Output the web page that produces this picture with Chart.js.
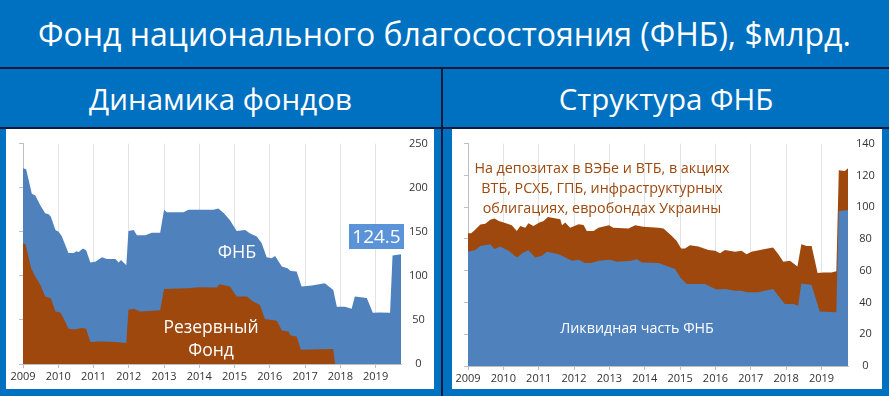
<!DOCTYPE html>
<html lang="ru">
<head>
<meta charset="UTF-8">
<title>Фонд национального благосостояния</title>
<script src="https://cdn.jsdelivr.net/npm/chart.js"></script>
<style>
  body { margin: 0; width: 889px; height: 396px; background: #0070c0; position: relative; overflow: hidden;
         font-family: "Open Sans", sans-serif; color: #fff; }
  .title { position: absolute; left: 0; top: 0; width: 889px; height: 68px; line-height: 68px; text-align: center; font-size: 32px; }
  .hline { position: absolute; left: 0; width: 889px; height: 2px; background: #0c1b3d; }
  .vline { position: absolute; left: 441px; top: 68px; width: 2px; height: 328px; background: #0c1b3d; }
  .sub { position: absolute; top: 70px; height: 58px; line-height: 58px; text-align: center; font-size: 29.5px; }
  .panel { position: absolute; top: 129px; height: 260px; background: #fff; }
  .panel canvas { position: absolute; left: 0; top: 0; }
  .lbl { position: absolute; white-space: nowrap; transform: translate(-50%, -50%); text-align: center; }
</style>
</head>
<body>

<div class="title">Фонд национального благосостояния (ФНБ), $млрд.</div>
<div class="hline" style="top:67px"></div>
<div class="hline" style="top:127px"></div>
<div class="vline"></div>
<div class="sub" style="left:0;width:441px">Динамика фондов</div>
<div class="sub" style="left:443px;width:446px">Структура ФНБ</div>

<div class="panel" style="left:6px;width:428px">
  <canvas id="leftChart" width="428" height="260"></canvas>
</div>
<div class="panel" style="left:452px;width:430px">
  <canvas id="rightChart" width="430" height="260"></canvas>
</div>

<div class="lbl" style="left:237px;top:251px;font-size:18px">ФНБ</div>
<div class="lbl" style="left:211px;top:326px;font-size:17.5px">Резервный</div>
<div class="lbl" style="left:211px;top:349px;font-size:17.5px">Фонд</div>
<div style="position:absolute;left:349px;top:224px;width:55px;height:25px;background:#5b93d9;color:#fff;font-size:19px;line-height:25px;text-align:center">124.5</div>

<div class="lbl" style="left:602px;top:188px;font-size:14.3px;line-height:20px;color:#9e480e">На депозитах в ВЭБе и ВТБ, в акциях<br>ВТБ, РСХБ, ГПБ, инфраструктурных<br>облигациях, евробондах Украины</div>
<div class="lbl" style="left:637px;top:327px;font-size:14.3px">Ликвидная часть ФНБ</div>

<script>
  // x axis years
  const yearTicks = [2009, 2010, 2011, 2012, 2013, 2014, 2015, 2016, 2017, 2018, 2019];
  const leftYTicks = [0, 50, 100, 150, 200, 250];
  const rightYTicks = [0, 20, 40, 60, 80, 100, 120, 140];

  // Динамика фондов: ФНБ (сверху) и Резервный фонд
  const fnbTopYears = [2009.00, 2009.09, 2009.25, 2009.35, 2009.49, 2009.63, 2009.73, 2009.79, 2009.92, 2010.01,
    2010.10, 2010.29, 2010.44, 2010.51, 2010.58, 2010.70, 2010.79, 2010.91, 2011.05, 2011.24,
    2011.38, 2011.62, 2011.71, 2011.78, 2011.93, 2011.99, 2012.14, 2012.23, 2012.47, 2012.65,
    2012.89, 2013.00, 2013.08, 2013.55, 2013.69, 2014.40, 2014.54, 2014.70, 2014.87, 2015.06,
    2015.30, 2015.44, 2015.63, 2015.77, 2015.91, 2016.05, 2016.15, 2016.34, 2016.50, 2016.59,
    2016.76, 2016.90, 2017.19, 2017.56, 2017.80, 2017.90, 2018.13, 2018.32, 2018.41, 2018.75,
    2018.92, 2019.12, 2019.41, 2019.48, 2019.72];
  const fnbTopValues = [222, 221, 193, 191, 180, 171, 170, 167, 152, 150,
    145, 126, 126, 128, 127, 131, 129, 115, 116, 121,
    119, 119, 115, 118, 112, 151, 152, 146, 146, 149,
    149, 175, 172, 172, 175, 175, 176.5, 171, 163, 151,
    152, 148, 144.5, 137, 121, 120, 122.5, 110.5, 108.6, 105.6,
    104.8, 88, 89, 91.6, 84, 65, 65, 62.6, 76.5, 75,
    58, 58.5, 58, 123, 124.5];

  const reserveYears = [2009.00, 2009.07, 2009.23, 2009.35, 2009.49, 2009.63, 2009.79, 2009.92, 2010.06, 2010.15,
    2010.29, 2010.44, 2010.67, 2010.79, 2010.91, 2011.19, 2011.62, 2011.93, 2011.99, 2012.14,
    2012.32, 2012.89, 2013.00, 2013.65, 2014.02, 2014.50, 2014.57, 2014.87, 2015.06, 2015.35,
    2015.53, 2015.72, 2015.86, 2016.20, 2016.34, 2016.53, 2016.59, 2016.76, 2016.88, 2017.80,
    2017.85];
  const reserveValues = [137, 136, 108.6, 99, 90, 76.5, 74.7, 59.6, 58.5, 52,
    40, 39, 40.7, 40, 25, 25.6, 25, 23.8, 61.5, 62.6,
    59.6, 61, 85, 86, 87, 86.7, 90.5, 88, 76.5, 76.5,
    71, 67, 51, 49, 38, 37, 32.4, 31.3, 16.2, 17,
    0];

  // Структура ФНБ: всего и ликвидная часть
  const totalYears = [2009.00, 2009.09, 2009.21, 2009.35, 2009.49, 2009.63, 2009.75, 2009.87, 2010.01, 2010.24,
    2010.38, 2010.48, 2010.62, 2010.71, 2010.85, 2011.02, 2011.14, 2011.26, 2011.61, 2011.66,
    2011.75, 2011.89, 2012.13, 2012.27, 2012.36, 2012.55, 2012.69, 2012.99, 2013.11, 2013.54,
    2013.73, 2013.96, 2014.39, 2014.53, 2014.76, 2014.90, 2015.03, 2015.14, 2015.28, 2015.52,
    2015.80, 2015.99, 2016.13, 2016.27, 2016.55, 2016.74, 2016.88, 2017.02, 2017.40, 2017.63,
    2017.78, 2017.92, 2018.11, 2018.32, 2018.43, 2018.58, 2018.72, 2018.89, 2019.05, 2019.28,
    2019.42, 2019.49, 2019.66, 2019.75];
  const totalValues = [83.6, 83.6, 86, 89, 89.6, 92, 92.8, 91.3, 90.3, 88.6,
    85, 88.2, 87, 89.9, 88.2, 90.3, 91.3, 93.8, 92.4, 88.6,
    90.3, 87, 89.2, 88.8, 85, 85, 87, 88.6, 87, 86.5,
    88.6, 87.6, 87, 86.5, 82, 78.8, 74, 74, 76, 75.2,
    73, 72.5, 71, 73, 71.9, 72.5, 70.4, 71.9, 73.6, 74.6,
    70.4, 65.6, 66.2, 62.7, 76.7, 75.6, 75.6, 58.5, 58.9, 58.9,
    59.6, 123.3, 122.7, 124.5];

  const liquidYears = [2009.00, 2009.21, 2009.35, 2009.63, 2009.75, 2009.91, 2010.15, 2010.38, 2010.57, 2010.71,
    2010.90, 2011.09, 2011.23, 2011.56, 2011.70, 2011.94, 2012.13, 2012.31, 2012.50, 2012.69,
    2013.02, 2013.21, 2013.63, 2013.77, 2013.92, 2014.39, 2014.57, 2014.86, 2015.00, 2015.19,
    2015.70, 2016.03, 2016.27, 2016.55, 2016.74, 2016.88, 2017.21, 2017.63, 2017.78, 2017.96,
    2018.20, 2018.34, 2018.43, 2018.72, 2018.95, 2019.42, 2019.49, 2019.75];
  const liquidValues = [71.9, 73.1, 75.6, 76.7, 73.6, 75.2, 72.5, 68.3, 71.5, 72.9,
    68.3, 69.4, 71.9, 70.4, 69, 66.2, 66.9, 64.8, 64.8, 66.2,
    66.9, 65.6, 66.2, 67.3, 65.2, 64.8, 63.5, 61, 55.8, 51.6,
    51.6, 48.1, 48.5, 47.4, 47.4, 46.4, 46.4, 48.5, 44.3, 39.1,
    39.1, 38, 52, 51, 34.3, 33.9, 97.6, 98];

  const blue = '#4f81bd';
  const brown = '#9e480e';
  const tickFont = { family: 'Open Sans', size: 11 };
  const pts = (xs, ys) => xs.map((x, i) => ({ x: x, y: ys[i] }));
  const area = (label, data, color) => ({
    label: label, data: data, backgroundColor: color, borderWidth: 0,
    pointRadius: 0, fill: 'origin', tension: 0
  });

  function makeChart(id, datasets, xMax, yTicks, pad, yWidth, xHeight) {
    return new Chart(document.getElementById(id), {
      type: 'line',
      data: { datasets: datasets },
      options: {
        responsive: false,
        animation: false,
        layout: { padding: { left: pad.left, top: pad.top, right: 0, bottom: 0 } },
        plugins: { legend: { display: false }, tooltip: { enabled: false } },
        scales: {
          x: {
            type: 'linear', min: 2009, max: xMax,
            afterBuildTicks: s => { s.ticks = yearTicks.map(v => ({ value: v })); },
            afterFit: s => { s.height = xHeight; },
            grid: { color: '#e3e3e3', tickLength: 4, tickColor: '#bfbfbf' },
            border: { color: '#bfbfbf' },
            ticks: { color: '#333', font: tickFont, padding: 2, maxRotation: 0, callback: v => String(v) }
          },
          y: {
            position: 'right', min: 0, max: yTicks[yTicks.length - 1],
            afterBuildTicks: s => { s.ticks = yTicks.map(v => ({ value: v })); },
            afterFit: s => { s.width = yWidth; },
            grid: { display: false, drawTicks: false },
            border: { display: false },
            ticks: { color: '#333', font: tickFont, padding: 8, crossAlign: 'center', callback: v => String(v) }
          },
          yl: {
            position: 'left', min: 0, max: yTicks[yTicks.length - 1],
            afterBuildTicks: s => { s.ticks = yTicks.map(v => ({ value: v })); },
            afterFit: s => { s.width = 4; },
            grid: { drawOnChartArea: false, tickLength: 4, color: '#bfbfbf' },
            border: { color: '#bfbfbf' },
            ticks: { display: false }
          }
        }
      }
    });
  }

  makeChart('leftChart', [
    area('Резервный фонд', pts(reserveYears, reserveValues), brown),
    area('ФНБ', pts(fnbTopYears, fnbTopValues), blue)
  ], 2019.72, leftYTicks, { left: 13, top: 14 }, 33, 25);

  makeChart('rightChart', [
    area('Ликвидная часть ФНБ', pts(liquidYears, liquidValues), blue),
    area('ФНБ всего', pts(totalYears, totalValues), brown)
  ], 2019.75, rightYTicks, { left: 12, top: 13 }, 34, 23);
</script>
</body>
</html>
